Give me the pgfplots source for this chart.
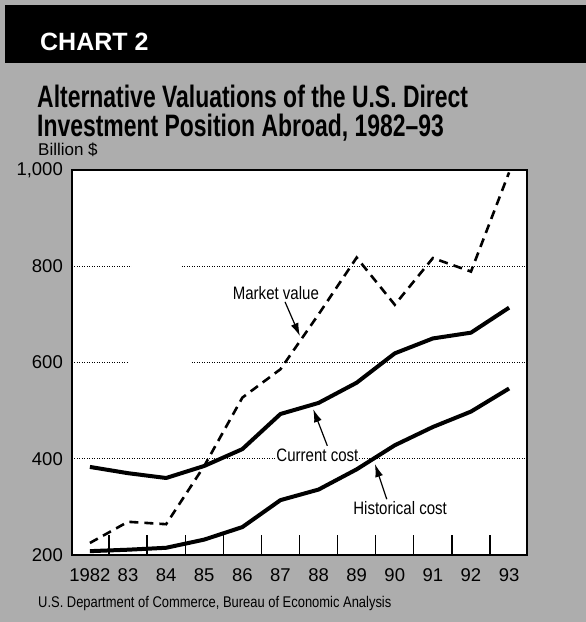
\documentclass[border=0pt]{standalone}
\usepackage{fontspec}
\setmainfont{Liberation Sans}
\newfontfamily\condfont{Liberation Sans}[FakeStretch=0.835]
\newfontfamily\titlefont{Liberation Sans}[FakeStretch=0.74]
\usepackage{pgfplots}
\pgfplotsset{compat=1.18}
\usetikzlibrary{arrows.meta}

\begin{document}
\begin{tikzpicture}
% page background and header
\fill[black!32] (0pt,0pt) rectangle (586pt,622pt);
\fill[black] (5pt,617pt) rectangle (586pt,559pt);
\node[anchor=base west, inner sep=0pt, text=white, font=\fontsize{25}{25}\selectfont\bfseries] at (40pt,571pt) {CHART 2};
\node[anchor=base west, inner sep=0pt, font=\titlefont\fontsize{31}{31}\selectfont\bfseries] at (37pt,514pt)
  {Alternative Valuations of the U.S. Direct};
\node[anchor=base west, inner sep=0pt, font=\titlefont\fontsize{31}{31}\selectfont\bfseries] at (37pt,485pt)
  {Investment Position Abroad, 1982–93};
\node[anchor=base west, inner sep=0pt, font=\fontsize{17}{17}\selectfont] at (38pt,466pt) {Billion \$};
\node[anchor=base west, inner sep=0pt, font=\condfont\fontsize{15.5}{15.5}\selectfont] at (38pt,15pt) {U.S. Department of Commerce, Bureau of Economic Analysis};

\begin{axis}[
    at={(72pt,67pt)}, anchor=south west,
    scale only axis, width=455pt, height=385pt,
    xmin=1981.53, xmax=1993.47, ymin=200, ymax=1000,
    axis background/.style={fill=white},
    axis line style={line width=1.5pt},
    xtick={1982,1983,1984,1985,1986,1987,1988,1989,1990,1991,1992,1993},
    xticklabels={1982,83,84,85,86,87,88,89,90,91,92,93},
    minor xtick={1982.5,1983.5,1984.5,1985.5,1986.5,1987.5,1988.5,1989.5,1990.5,1991.5,1992.5},
    major tick length=0pt, minor tick length=20pt, tick align=inside,
    minor tick style={black, line width=1.2pt},
    xtick pos=bottom, ytick pos=left,
    ytick={200,400,600,800,1000}, yticklabels={200,400,600,800,{1,000}},
    ymajorgrids, major grid style={black, line width=0.8pt, dash pattern=on 0.8pt off 1.7pt},
    tick label style={font=\fontsize{18.5}{18.5}\selectfont},
    xticklabel style={anchor=north, inner sep=0pt, yshift=-13pt},
    yticklabel style={anchor=east, inner sep=0pt, xshift=-9pt},
    /pgf/number format/assume math mode=true,
]
% gaps in the grid lines
\fill[white] (axis cs:1983.1,790) rectangle (axis cs:1984.36,810);
\fill[white] (axis cs:1983.0,590) rectangle (axis cs:1984.65,610);

% historical cost
\addplot[black, line width=4pt, line join=round] coordinates {
  (1982,208) (1983,211) (1984,215) (1985,232) (1986,258) (1987,314)
  (1988,336) (1989,378) (1990,428) (1991,466) (1992,498) (1993,546)};
% current cost
\addplot[black, line width=4pt, line join=round] coordinates {
  (1982,383) (1983,370) (1984,360) (1985,385) (1986,420) (1987,493)
  (1988,516) (1989,558) (1990,619) (1991,650) (1992,662) (1993,714)};
% market value
\addplot[black, line width=2.6pt, dash pattern=on 9pt off 6pt] coordinates {
  (1982,225) (1983,269) (1984,264) (1985,385) (1986,527) (1987,586)
  (1988,700) (1989,818) (1990,720) (1991,817) (1992,789) (1993,995)};

\node[font=\condfont\fontsize{18}{18}\selectfont, fill=white, inner sep=1pt] at (axis cs:1986.88,744) {Market value};
\draw[-{Latex[length=13pt,width=8pt]}, line width=1.2pt] (axis cs:1987.12,726) -- (axis cs:1987.51,655);
\node[font=\condfont\fontsize{18}{18}\selectfont, fill=white, inner sep=1pt] at (axis cs:1987.97,408) {Current cost};
\draw[-{Latex[length=13pt,width=8pt]}, line width=1.2pt] (axis cs:1988.23,427) -- (axis cs:1987.86,503);
\node[font=\condfont\fontsize{18}{18}\selectfont, fill=white, inner sep=1pt] at (axis cs:1990.14,298) {Historical cost};
\draw[-{Latex[length=13pt,width=8pt]}, line width=1.2pt] (axis cs:1989.79,316) -- (axis cs:1989.48,389);
\end{axis}
\pgfresetboundingbox
\path[use as bounding box] (0pt,0pt) rectangle (586pt,622pt);
\end{tikzpicture}
\end{document}
